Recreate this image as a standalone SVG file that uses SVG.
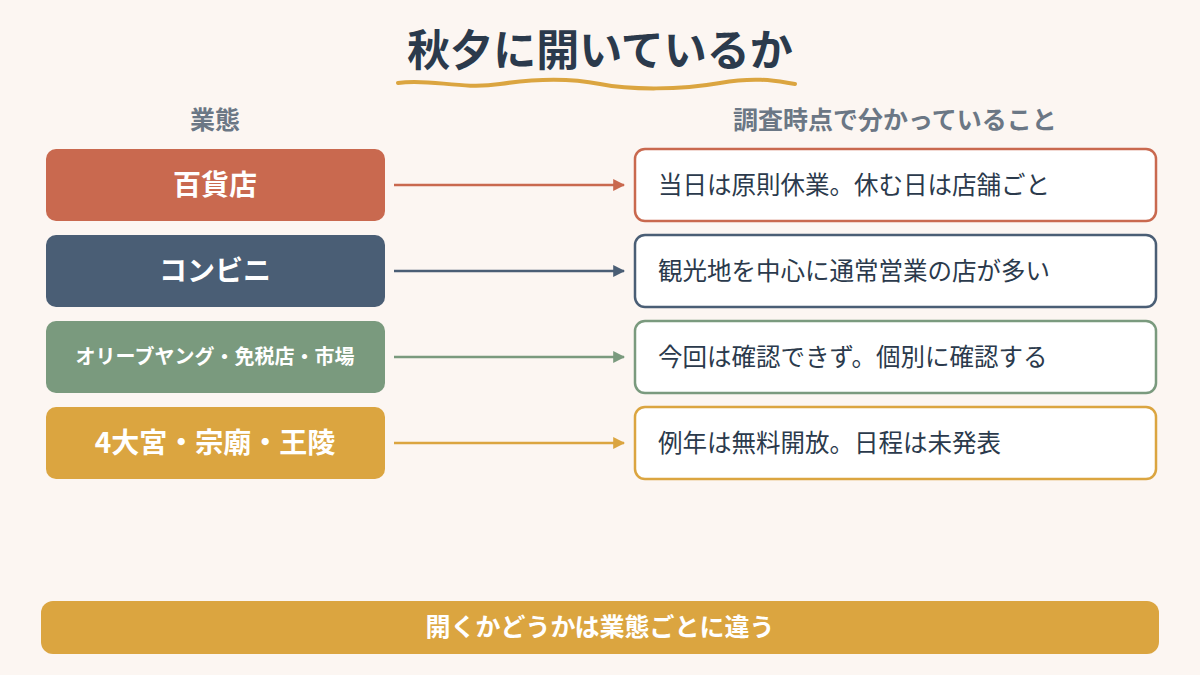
<svg xmlns="http://www.w3.org/2000/svg" width="1200" height="675" viewBox="0 0 1200 675">
<style>
text{font-family:"Noto Sans CJK JP","Noto Sans",sans-serif}
.lt{fill:#fff;font-weight:bold;text-anchor:middle}
.rt{fill:#2b3a4c;font-size:24.5px}
.hd{fill:#6b7785;font-size:25px;font-weight:bold;text-anchor:middle}
.rb{fill:#fff;stroke-width:2.5}
</style>
<defs>
<marker id="a1" viewBox="0 0 10 10" refX="9" refY="5" markerWidth="12" markerHeight="12" markerUnits="userSpaceOnUse" orient="auto"><path d="M0,0L10,5L0,10z" fill="#c9694f"/></marker>
<marker id="a2" viewBox="0 0 10 10" refX="9" refY="5" markerWidth="12" markerHeight="12" markerUnits="userSpaceOnUse" orient="auto"><path d="M0,0L10,5L0,10z" fill="#4a5e75"/></marker>
<marker id="a3" viewBox="0 0 10 10" refX="9" refY="5" markerWidth="12" markerHeight="12" markerUnits="userSpaceOnUse" orient="auto"><path d="M0,0L10,5L0,10z" fill="#7a9a7e"/></marker>
<marker id="a4" viewBox="0 0 10 10" refX="9" refY="5" markerWidth="12" markerHeight="12" markerUnits="userSpaceOnUse" orient="auto"><path d="M0,0L10,5L0,10z" fill="#dba540"/></marker>
</defs>
<rect width="1200" height="675" fill="#fcf6f2"/>
<g id="title">
<text x="600" y="66" text-anchor="middle" font-size="43" font-weight="bold" fill="#2b3a4c">秋夕に開いているか</text>
<path d="M398,83 C430,78 460,90 500,84 S570,78 600,84 S680,90 720,83 S780,82 795,84" fill="none" stroke="#dba540" stroke-width="4" stroke-linecap="round"/>
</g>
<g id="headers">
<text class="hd" x="215" y="129">業態</text>
<text class="hd" x="895" y="129">調査時点で分かっていること</text>
</g>
<g id="n1"><rect x="46" y="149" width="339" height="72" rx="10" fill="#c9694f"/><text class="lt" x="215" y="195" font-size="28">百貨店</text></g>
<g id="n2"><rect x="46" y="235" width="339" height="72" rx="10" fill="#4a5e75"/><text class="lt" x="215" y="281" font-size="28">コンビニ</text></g>
<g id="n3"><rect x="46" y="321" width="339" height="72" rx="10" fill="#7a9a7e"/><text class="lt" x="215" y="364" font-size="20">オリーブヤング・免税店・市場</text></g>
<g id="n4"><rect x="46" y="407" width="339" height="72" rx="10" fill="#dba540"/><text class="lt" x="215" y="453" font-size="28">4大宮・宗廟・王陵</text></g>
<g id="r1"><rect class="rb" x="635" y="149" width="521" height="72" rx="10" stroke="#c9694f"/><text class="rt" x="658" y="194">当日は原則休業。休む日は店舗ごと</text></g>
<g id="r2"><rect class="rb" x="635" y="235" width="521" height="72" rx="10" stroke="#4a5e75"/><text class="rt" x="658" y="280">観光地を中心に通常営業の店が多い</text></g>
<g id="r3"><rect class="rb" x="635" y="321" width="521" height="72" rx="10" stroke="#7a9a7e"/><text class="rt" x="658" y="366">今回は確認できず。個別に確認する</text></g>
<g id="r4"><rect class="rb" x="635" y="407" width="521" height="72" rx="10" stroke="#dba540"/><text class="rt" x="658" y="452">例年は無料開放。日程は未発表</text></g>
<g id="connectors" stroke-width="2.5">
<line x1="394" y1="185" x2="624" y2="185" stroke="#c9694f" marker-end="url(#a1)"/>
<line x1="394" y1="271" x2="624" y2="271" stroke="#4a5e75" marker-end="url(#a2)"/>
<line x1="394" y1="357" x2="624" y2="357" stroke="#7a9a7e" marker-end="url(#a3)"/>
<line x1="394" y1="443" x2="624" y2="443" stroke="#dba540" marker-end="url(#a4)"/>
</g>
<g id="footer"><rect x="41" y="601" width="1118" height="53" rx="12" fill="#dba540"/><text class="lt" x="600" y="636" font-size="25">開くかどうかは業態ごとに違う</text></g>
</svg>
